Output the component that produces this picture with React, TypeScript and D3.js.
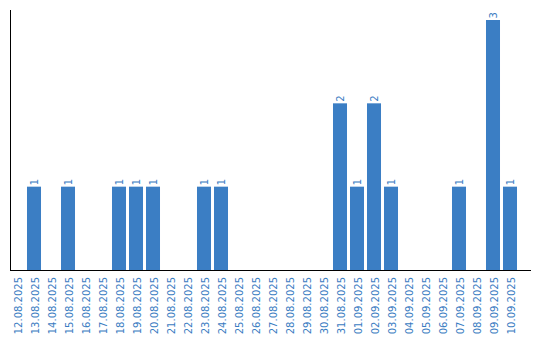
import React from "react";
import * as d3 from "d3";

const categories = [
  "12.08.2025","13.08.2025","14.08.2025","15.08.2025","16.08.2025","17.08.2025",
  "18.08.2025","19.08.2025","20.08.2025","21.08.2025","22.08.2025","23.08.2025",
  "24.08.2025","25.08.2025","26.08.2025","27.08.2025","28.08.2025","29.08.2025",
  "30.08.2025","31.08.2025","01.09.2025","02.09.2025","03.09.2025","04.09.2025",
  "05.09.2025","06.09.2025","07.09.2025","08.09.2025","09.09.2025","10.09.2025",
];
const values = [0,1,0,1,0,0,1,1,1,0,0,1,1,0,0,0,0,0,0,2,1,2,1,0,0,0,1,0,3,1];

const W = 540, H = 340;
const BAR = "#3b7ec4";
const TXT = "#3a7cc2";

export default function App() {
  const x = d3.scaleBand<string>()
    .domain(categories)
    .range([8.5, 518.5])
    .paddingInner(0.176)
    .paddingOuter(0.088);
  const y = d3.scaleLinear().domain([0, 3]).range([270, 20]);
  const font = "'DejaVu Sans', Verdana, sans-serif";
  return (
    <svg width={W} height={H} style={{ position: "absolute", left: 0, top: 0 }}>
      <rect x={0} y={0} width={W} height={H} fill="#fff" />
      {categories.map((c, i) => {
        const v = values[i];
        if (!v) return null;
        const bx = x(c)!;
        const cx = bx + x.bandwidth() / 2;
        return (
          <g key={c}>
            <rect x={bx} y={y(v)} width={x.bandwidth()} height={y(0) - y(v)} fill={BAR} />
            <text
              transform={`translate(${cx + 3.8},${y(v) - 1.5}) rotate(-90)`}
              fontFamily={font}
              fontSize={10}
              fill={TXT}
            >
              {v}
            </text>
          </g>
        );
      })}
      <line x1={10.5} x2={10.5} y1={10} y2={270} stroke="#000" strokeWidth={1} />
      <line x1={10} x2={531} y1={270.5} y2={270.5} stroke="#000" strokeWidth={1} />
      {categories.map((c) => {
        const cx = x(c)! + x.bandwidth() / 2;
        return (
          <text
            key={c}
            transform={`translate(${cx + 4.5},277) rotate(-90)`}
            textAnchor="end"
            fontFamily={font}
            fontSize={10}
            fill={TXT}
          >
            {c}
          </text>
        );
      })}
    </svg>
  );
}
